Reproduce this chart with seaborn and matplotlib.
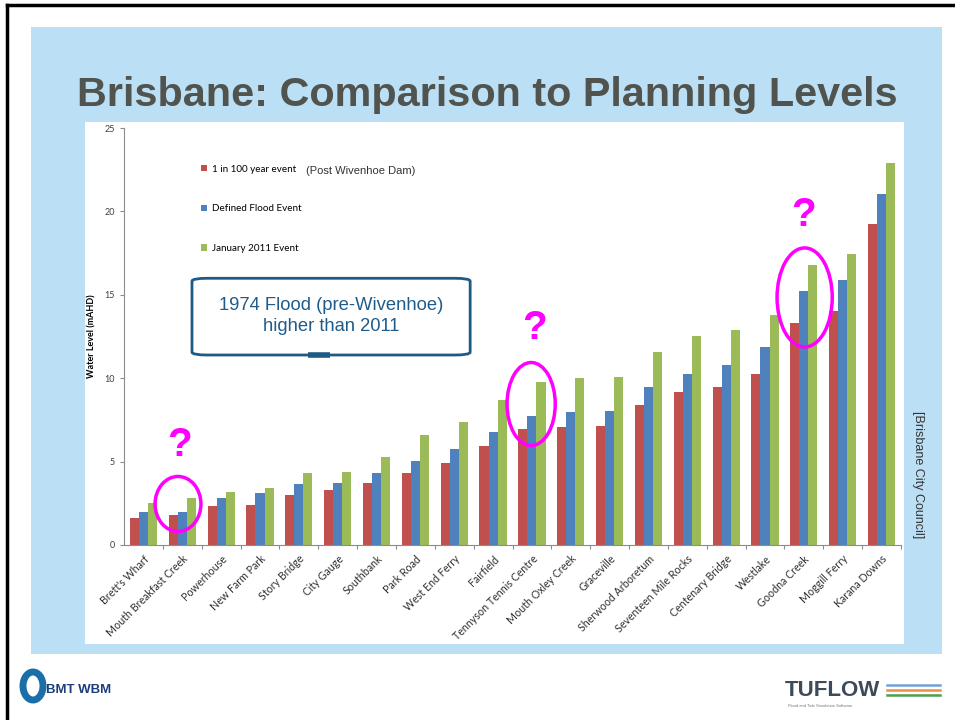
#recreating the Brisbane planning levels slide
import pandas as pd
import matplotlib
matplotlib.use("Agg")
import matplotlib.pyplot as plt
from matplotlib.patches import Rectangle, Ellipse, FancyBboxPatch
import seaborn as sns

# data (m AHD)
sites = ["Brett's Wharf", "Mouth Breakfast Creek", "Powerhouse", "New Farm Park",
         "Story Bridge", "City Gauge", "Southbank", "Park Road", "West End Ferry",
         "Fairfield", "Tennyson Tennis Centre", "Mouth Oxley Creek", "Graceville",
         "Sherwood Arboretum", "Seventeen Mile Rocks", "Centenary Bridge", "Westlake",
         "Goodna Creek", "Moggill Ferry", "Karana Downs"]
event_100yr = [1.6, 1.8, 2.35, 2.4, 3.0, 3.3, 3.7, 4.3, 4.9, 5.95,
               6.95, 7.1, 7.15, 8.4, 9.2, 9.5, 10.25, 13.3, 14.0, 19.25]
defined_flood = [2.0, 2.0, 2.8, 3.1, 3.65, 3.7, 4.3, 5.05, 5.75, 6.8,
                 7.75, 7.95, 8.05, 9.5, 10.25, 10.8, 11.9, 15.2, 15.9, 21.05]
jan_2011 = [2.5, 2.8, 3.2, 3.4, 4.3, 4.4, 5.3, 6.6, 7.4, 8.7,
            9.8, 10.0, 10.1, 11.6, 12.55, 12.9, 13.8, 16.8, 17.45, 22.9]
events = ["1 in 100 year event", "Defined Flood Event", "January 2011 Event"]
y_ticks = [0, 5, 10, 15, 20, 25]

df = pd.DataFrame({
    "site": sites * 3,
    "level": event_100yr + defined_flood + jan_2011,
    "event": [events[0]] * 20 + [events[1]] * 20 + [events[2]] * 20,
})

plt.rcParams["font.family"] = ["Liberation Sans", "DejaVu Sans"]

fig = plt.figure(figsize=(9.55, 7.2), dpi=100)

# slide background in pixel coordinates
bg = fig.add_axes([0, 0, 1, 1], zorder=0)
bg.set_xlim(0, 955)
bg.set_ylim(720, 0)
bg.axis("off")
bg.add_patch(Rectangle((31, 27), 911, 627, color="#BBDFF5", lw=0))
bg.add_patch(Rectangle((85, 122), 819, 522, color="white", lw=0))
bg.plot([7, 955], [5, 5], color="black", lw=2.5)
bg.plot([7, 7], [5, 720], color="black", lw=2.5)
bg.text(487, 95, "Brisbane: Comparison to Planning Levels", ha="center", va="center",
        fontsize=29.8, fontweight="bold", color="#50534E")
bg.text(918, 475, "[Brisbane City Council]", ha="center", va="center", rotation=270,
        fontsize=9, color="#333333")

# logos as text
bg.add_patch(Ellipse((33, 686), 20, 28, fill=False, ec="#1A6FA8", lw=5))
bg.text(46, 690, "BMT WBM", ha="left", va="center", fontsize=9.5, fontweight="bold",
        color="#1B3F7A")
bg.text(785, 690, "TUFLOW", ha="left", va="center", fontsize=16, fontweight="bold",
        color="#3C4A5A")
bg.text(820, 706, "Flood and Tide Simulation Software", ha="center", va="center",
        fontsize=3, color="#777777")
for yy, cc in [(685, "#6FA0D8"), (690, "#E8904A"), (695, "#4CA04C")]:
    bg.plot([887, 940], [yy, yy], color=cc, lw=1.8)

# chart
ax = fig.add_axes([124 / 955, 175 / 720, 777 / 955, 417 / 720], zorder=2)
ax.patch.set_alpha(0)
sns.barplot(data=df, x="site", y="level", hue="event",
            palette=["#C0504D", "#4F81BD", "#9BBB59"], saturation=1, width=0.7,
            ax=ax)
ax.set_ylim(0, 25)
ax.set_xlim(-0.5, len(sites) - 0.5)
ax.set_yticks(y_ticks)
ax.set_xlabel("")
ax.set_ylabel("Water Level (mAHD)", fontsize=6.5, fontweight="bold", family="Lato",
              labelpad=6)
for s in ["top", "right"]:
    ax.spines[s].set_visible(False)
for s in ["left", "bottom"]:
    ax.spines[s].set_color("#8C8C8C")
    ax.spines[s].set_linewidth(0.8)
ax.tick_params(axis="y", labelsize=6.5, colors="#8C8C8C", labelcolor="#404040",
               length=3, width=0.8)
ax.set_xticks(range(len(sites)))
ax.set_xticklabels(sites, rotation=45, ha="right", rotation_mode="anchor",
                   fontsize=7.7, family="Lato", color="#303030")
ax.tick_params(axis="x", length=0, pad=6)
ax.set_xticks([i + 0.5 for i in range(len(sites))], minor=True)
ax.tick_params(axis="x", which="minor", length=3, color="#8C8C8C", width=0.8)
for lbl in ax.get_yticklabels():
    lbl.set_family("Lato")

handles, labels = ax.get_legend_handles_labels()
ax.legend(handles, labels, loc="upper left", bbox_to_anchor=(0.088, 0.933),
          frameon=False, labelspacing=3.1, handlelength=0.6,
          handleheight=0.6, handletextpad=0.5, prop={"family": "Lato", "size": 7.1})
ax.text(4.18, 22.45, "(Post Wivenhoe Dam)", fontsize=8, color="#333333", va="center")

# annotations
mag = "#FF00FF"
for xc, yc, w, h in [(0.89, 2.46, 1.18, 3.3), (9.98, 8.45, 1.24, 4.98),
                     (17.02, 14.84, 1.42, 5.94)]:
    ax.add_patch(Ellipse((xc, yc), w, h, fill=False, ec=mag, lw=2.5, clip_on=False,
                         zorder=5))
for xc, yc in [(0.94, 6.0), (10.06, 13.0), (17.0, 19.8)]:
    ax.text(xc, yc, "?", ha="center", va="center", fontsize=29, fontweight="bold",
            color=mag, zorder=6)

ax.add_patch(FancyBboxPatch((1.25, 11.39), 7.16, 4.6,
                            boxstyle="round,pad=0,rounding_size=0.4",
                            mutation_aspect=0.43, fc="white", ec="#1F5A85", lw=2,
                            zorder=4, clip_on=False))
ax.plot([4.24, 4.8], [11.39, 11.39], color="#1F5A85", lw=4, zorder=5,
        solid_capstyle="butt")
ax.text(4.83, 13.75, "1974 Flood (pre-Wivenhoe)\nhigher than 2011", ha="center",
        va="center", fontsize=13.2, color="#1F5C8C", zorder=6, linespacing=1.3)

fig.savefig("out.png", dpi=100)
